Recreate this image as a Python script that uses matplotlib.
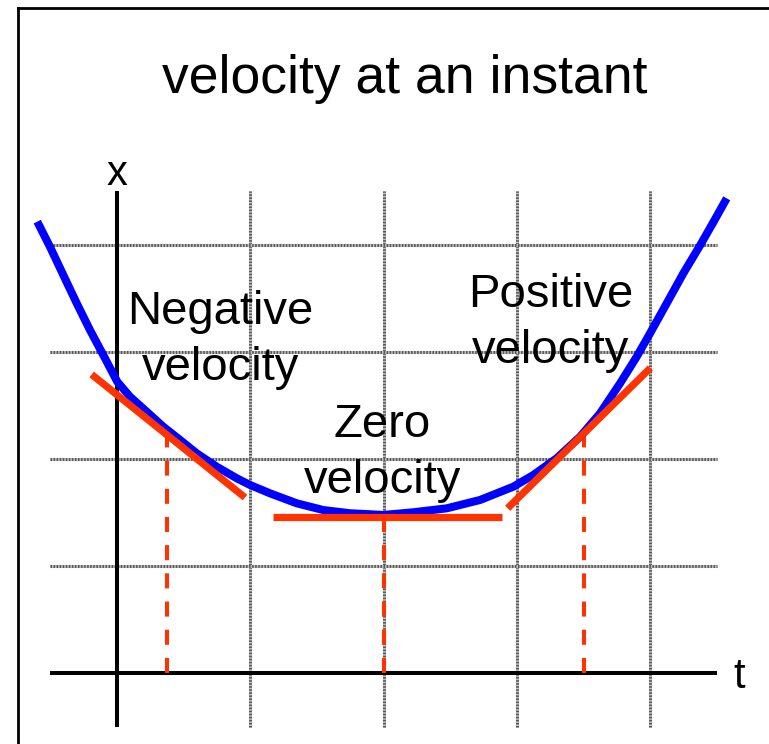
import matplotlib
matplotlib.use("Agg")
import matplotlib.pyplot as plt
from matplotlib.lines import Line2D

plt.rcParams['font.family'] = ['Liberation Sans', 'DejaVu Sans']

# position curve x(t), points along the hand-drawn parabola
curve_t = [-0.598, -0.503, -0.403, -0.302, -0.203, -0.103, 0.002, 0.098, 0.223,
           0.347, 0.473, 0.598, 0.748, 0.898, 0.998, 1.148, 1.348, 1.547, 1.748,
           1.997, 2.222, 2.473, 2.723, 2.972, 3.122, 3.298, 3.473, 3.623, 3.773,
           3.898, 3.998, 4.123, 4.248, 4.375, 4.475, 4.573]
curve_x = [4.218, 3.984, 3.720, 3.455, 3.206, 2.972, 2.722, 2.582, 2.442,
           2.302, 2.178, 2.053, 1.928, 1.820, 1.757, 1.679, 1.586, 1.523, 1.493,
           1.477, 1.502, 1.539, 1.617, 1.741, 1.850, 2.007, 2.208, 2.427, 2.707,
           2.956, 3.175, 3.455, 3.736, 4.000, 4.218, 4.436]

# tangent segments (start, end)
neg_tangent_t = [-0.19, 0.96]
neg_tangent_x = [2.79, 1.64]
zero_tangent_t = [1.17, 2.89]
zero_tangent_x = [1.46, 1.46]
pos_tangent_t = [2.93, 4.00]
pos_tangent_x = [1.54, 2.85]

# instants where the tangents touch the curve
instant_t = [0.375, 2.0, 3.5]
instant_x = [2.22, 1.46, 2.22]

grid_t = [1, 2, 3, 4]
grid_x = [1, 2, 3, 4]

labels = ["Negative\nvelocity", "Zero\nvelocity", "Positive\nvelocity"]
label_t = [0.773, 1.99, 3.255]
label_x = [2.738, 1.682, 2.897]

W, H = 769, 744
fig = plt.figure(figsize=(W / 100, H / 100), dpi=100)
ax = fig.add_axes([0, 0, 1, 1])
ax.axis('off')

# pixel scale: origin at (117, 673), one unit = 133.33 px across, 107 px up
ox, oy, sx, sy = 117, 673, 133.33, 107
ax.set_xlim((0 - ox) / sx, (W - ox) / sx)
ax.set_ylim((oy - H) / sy, oy / sy)

lo, hi = -0.5, 4.5

# checkered grey grid lines
for g in grid_t:
    ax.plot([g, g], [lo, hi], color='#bdbdbd', lw=2.2, zorder=1, solid_capstyle='butt')
    ax.plot([g, g], [lo, hi], color='#5a5a5a', lw=2.2, ls=(0, (0.5, 0.5)), zorder=1)
for g in grid_x:
    ax.plot([lo, hi], [g, g], color='#bdbdbd', lw=2.2, zorder=1, solid_capstyle='butt')
    ax.plot([lo, hi], [g, g], color='#5a5a5a', lw=2.2, ls=(0, (0.5, 0.5)), zorder=1)

# axes
ax.plot([0, 0], [lo, hi], color='black', lw=2.9, zorder=2, solid_capstyle='butt')
ax.plot([lo, hi], [0, 0], color='black', lw=2.9, zorder=2, solid_capstyle='butt')

# dashed drops from the tangent points
for t, x in zip(instant_t, instant_x):
    ax.plot([t, t], [0, x], color='#ff3300', lw=2.9, ls=(0, (3.75, 3.25)), zorder=3)

ax.plot(curve_t, curve_x, color='#0000ff', lw=5.8, zorder=4, solid_capstyle='butt',
        solid_joinstyle='round')

for tt, xx in [(neg_tangent_t, neg_tangent_x), (zero_tangent_t, zero_tangent_x),
               (pos_tangent_t, pos_tangent_x)]:
    ax.plot(tt, xx, color='#ff3300', lw=5.2, zorder=5, solid_capstyle='butt')

for s, t, x in zip(labels, label_t, label_x):
    ax.text(t, x, s, fontsize=34, ha='center', va='baseline', linespacing=1.36, zorder=6)

ax.text(0.0, 4.56, "x", fontsize=30, ha='center', va='baseline')
ax.text(4.665, -0.14, "t", fontsize=30, ha='center', va='baseline')

fig.text(405 / W, 1 - 93 / H, "velocity at an instant", fontsize=38.5,
         ha='center', va='baseline')

# frame along the top and left edges
fig.add_artist(Line2D([18 / W, 18 / W], [0, 1 - 8 / H], color='black', lw=2.0))
fig.add_artist(Line2D([18 / W, 1], [1 - 8 / H, 1 - 8 / H], color='black', lw=2.0))

fig.savefig("out.png", dpi=100)
